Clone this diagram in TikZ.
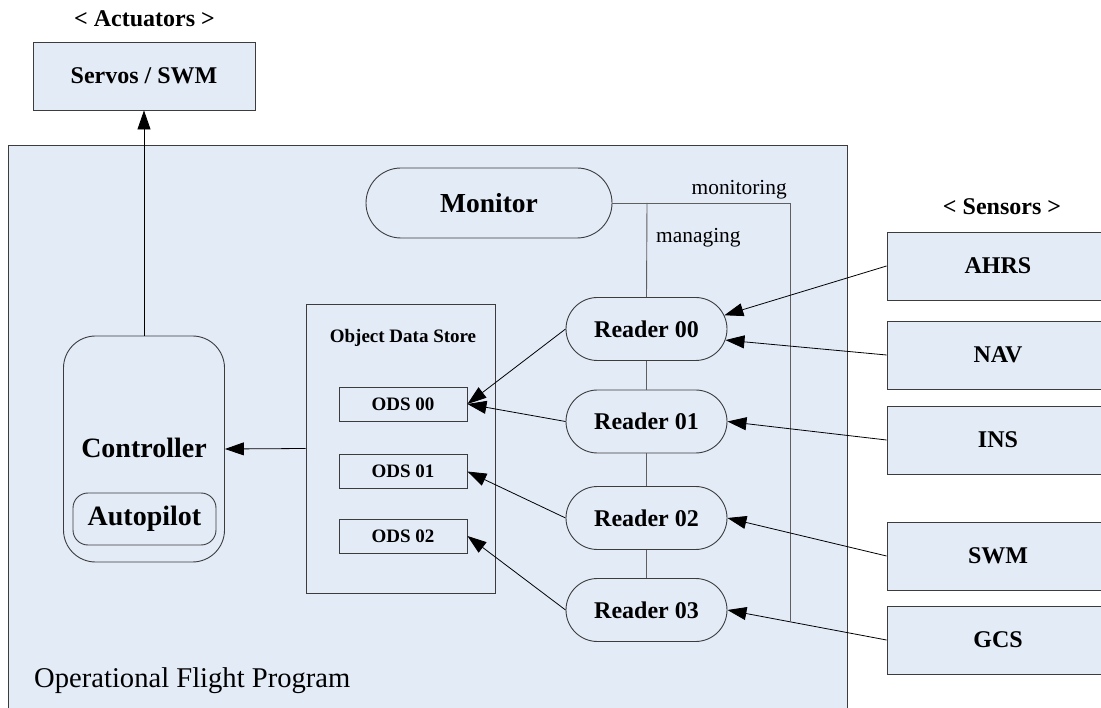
\documentclass[tikz,border=0pt]{standalone}
\usepackage{fontspec}
\setmainfont{Liberation Serif}
\usetikzlibrary{shapes.misc,arrows.meta}
\definecolor{panel}{RGB}{227,235,247}
\definecolor{edge}{RGB}{60,60,60}
\definecolor{wire}{RGB}{95,95,95}

\begin{document}
\begin{tikzpicture}[x=1pt,y=-1pt,
  bold24/.style={font=\bfseries\fontsize{24}{28}\selectfont},
  bold28/.style={font=\bfseries\fontsize{28}{32}\selectfont},
  bold19/.style={font=\bfseries\fontsize{19}{22}\selectfont},
  plain21/.style={font=\fontsize{21.4}{25}\selectfont},
  box/.style={draw=edge,line width=0.9pt,fill=panel,inner sep=0pt},
  sensorbox/.style={box,bold24,minimum width=222pt,minimum height=68pt},
  odsbox/.style={box,bold19,minimum width=128pt,minimum height=34pt},
  reader/.style={rounded rectangle,draw=edge,line width=0.9pt,fill=panel,inner sep=0pt,
    minimum width=161pt,minimum height=63pt,bold24},
  link/.style={draw=wire,line width=0.9pt},
  arr/.style={-{Triangle[length=19pt,width=13pt]},line width=0.8pt,draw=black},
  label/.style={inner sep=0pt},
]
\useasboundingbox (0,0) rectangle (1101,708);
\clip (0,0) rectangle (1101,708);
\fill[white] (0,0) rectangle (1101,708);

% program frame
\draw[box] (8,145) rectangle (847,720);
\node[label,anchor=base west,font=\fontsize{28.6}{32}\selectfont] (ofp) at (34,687) {Operational Flight Program};

% actuators
\node[label,anchor=base,bold24] (acttitle) at (144.5,27) {< Actuators >};
\node[box,bold24,minimum width=222pt,minimum height=68pt] (servo) at (144,76) {Servos / SWM};

% controller
\node[box,rounded corners=32pt,minimum width=161pt,minimum height=226pt] (ctrl) at (144,449) {};
\node[label,anchor=base,bold28] (ctrltxt) at (144,458) {Controller};
\node[box,rounded corners=15pt,minimum width=143pt,minimum height=52pt,bold28] (auto) at (144.5,519) {Autopilot};

% object data store
\node[box,minimum width=189pt,minimum height=289pt] (ods) at (400.5,448.5) {};
\node[label,anchor=base,bold19] (odstitle) at (403,343) {Object Data Store};
\node[odsbox] (ods0) at (403,404) {ODS 00};
\node[odsbox] (ods1) at (403,471.5) {ODS 01};
\node[odsbox] (ods2) at (403,536) {ODS 02};

% monitor wiring
\coordinate (mtap) at (647,203);
\coordinate (mcorner) at (790,203);
\coordinate (mend) at (790,621);
\node[reader,minimum width=246pt,minimum height=70pt,font=\bfseries\fontsize{27.5}{32}\selectfont] (mon) at (489,203) {Monitor};
\draw[link] (mon.east) -- (mcorner) -- (mend);
\node[label,anchor=base east,plain21] (monlbl) at (787,195) {monitoring};
\node[label,anchor=base west,plain21] (manlbl) at (656,243) {managing};

% readers
\node[reader] (r0) at (646.5,329) {Reader 00};
\node[reader] (r1) at (646.5,421.5) {Reader 01};
\node[reader] (r2) at (646.5,518) {Reader 02};
\node[reader] (r3) at (646.5,610) {Reader 03};
\draw[link] (mtap) -- (r0.north);
\draw[link] (r0.south) -- (r1.north);
\draw[link] (r1.south) -- (r2.north);
\draw[link] (r2.south) -- (r3.north);

% sensors
\node[label,anchor=base,bold24] (sentitle) at (1002,215) {< Sensors >};
\node[sensorbox] (ahrs) at (998,266) {AHRS};
\node[sensorbox] (nav) at (998,355) {NAV};
\node[sensorbox] (ins) at (998,440) {INS};
\node[sensorbox] (swm) at (998,556) {SWM};
\node[sensorbox] (gcs) at (998,640) {GCS};

% data flow
\draw[arr] (ctrl.north) -- (servo.south);
\draw[arr] (ods.west) -- (ctrl.east);
\draw[arr] (r0.west) -- (ods0.east);
\draw[arr] (r1.west) -- (ods0.east);
\draw[arr] (r2.west) -- (ods1.east);
\draw[arr] (r3.west) -- (ods2.east);
\draw[arr] (ahrs.west) -- (r0.10);
\draw[arr] (nav.west) -- (r0.-8);
\draw[arr] (ins.west) -- (r1.east);
\draw[arr] (swm.west) -- (r2.east);
\draw[arr] (gcs.west) -- (r3.east);
\end{tikzpicture}
\end{document}
